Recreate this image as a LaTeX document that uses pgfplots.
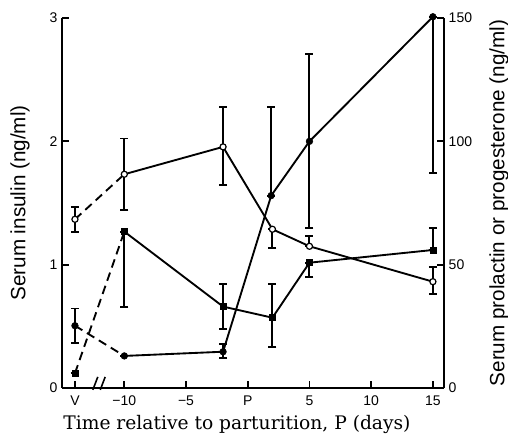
\documentclass[border=0pt]{standalone}
\usepackage{fontspec}
\setmainfont{Liberation Serif}
\newfontfamily\tickfont{Liberation Sans}
\newfontfamily\labsans{Liberation Sans}
\newfontfamily\labserif{DejaVu Serif}
\usepackage{pgfplots}
\pgfplotsset{compat=1.18}
\usepackage{pgfplotstable}

\pgfplotstableread{
x y ep em
-14 1.368 0.10 0.10
-10 1.733 0.29 0.29
-2 1.955 0.32 0.31
2 1.287 0 0.154
5 1.149 0.086 0
15 0.862 0.117 0.10
}\tOpen
\pgfplotstableread{
x y ep em
-14 0.505 0.14 0.14
-10 0.26 0 0
-2 0.294 0.063 0.048
1.9 1.56 0.717 0
5 2.0 0.705 0.70
15 3.01 0 1.264
}\tFilled
\pgfplotstableread{
x y ep em
-14 0.119 0 0
-10 1.268 0 0.608
-2 0.66 0.18 0.18
2 0.57 0.27 0.235
5 1.016 0 0.116
15 1.119 0.18 0
}\tSquare

\begin{document}
\begin{tikzpicture}
\pgfplotsset{
  every axis/.append style={
    scale only axis, width=286.5pt, height=277.5pt,
    xmin=-15.05, xmax=15.9, ymin=0, ymax=3,
    tick align=inside, major tick length=5pt,
    axis line style={line width=1.4pt}, tick style={line width=1.3pt,black},
    tick label style={font=\tickfont\fontsize{10.5}{12}\selectfont},
    ylabel style={font=\labsans\fontsize{15.5}{17}\selectfont, anchor=center},
  },
  ebar/.style={line width=1.5pt, error bars/.cd, y dir=both, y explicit,
    error bar style={line width=1.5pt},
    error mark options={rotate=90, mark size=3pt, line width=1.4pt}},
}
\begin{axis}[
  axis x line*=bottom, axis y line*=left, clip=false,
  xtick={-14,-10,-5,0,5,10,15},
  xticklabels={V,−10,−5,P,5,10,15},
  xticklabel style={yshift=-2pt},
  ytick={0,1,2,3}, yticklabels={0,1,2,3},
  xlabel={Time relative to parturition, P (days)},
  xlabel style={font=\labserif\fontsize{14}{16}\selectfont, at={(axis description cs:0.458,-0.099)}, anchor=center},
  ylabel={Serum insulin (ng/ml)},
  ylabel style={at={(axis description cs:-0.11,0.5)}},
  every axis plot/.append style={black, line width=1.4pt},
]
% open circles
\addplot[no marks, dash pattern=on 6.5pt off 4pt] table[x=x,y=y] {
x y
-14 1.368
-10 1.733
};
\addplot[no marks] table[x=x,y=y] {
x y
-10 1.733
-2 1.955
2 1.287
5 1.149
15 0.862
};
% filled circles
\addplot[no marks, dash pattern=on 6.5pt off 4pt] table[x=x,y=y] {
x y
-14 0.505
-10 0.26
};
\addplot[no marks] table[x=x,y=y] {
x y
-10 0.26
-2 0.294
1.9 1.56
5 2.0
15 3.01
};
% squares
\addplot[no marks, dash pattern=on 6.5pt off 4pt] table[x=x,y=y] {
x y
-14 0.119
-10 1.268
};
\addplot[no marks] table[x=x,y=y] {
x y
-10 1.268
-2 0.66
2 0.57
5 1.016
15 1.119
};
% marks with error bars
\addplot[only marks, mark=*, mark size=2.3pt, mark options={fill=white, line width=0.9pt}, ebar]
  table[x=x, y=y, y error plus=ep, y error minus=em] {\tOpen};
\addplot[only marks, mark=*, mark size=2.5pt, mark options={fill=black, line width=0.4pt}, ebar]
  table[x=x, y=y, y error plus=ep, y error minus=em] {\tFilled};
\addplot[only marks, mark=square*, mark size=2.3pt, mark options={fill=black, line width=0.4pt}, ebar]
  table[x=x, y=y, y error plus=ep, y error minus=em] {\tSquare};
% axis break
\draw[line width=1.2pt] (axis cs:-12.55,-0.015) -- (axis cs:-12.15,0.09);
\draw[line width=1.2pt] (axis cs:-11.95,-0.015) -- (axis cs:-11.55,0.09);
\end{axis}
\begin{axis}[
  axis x line=none, axis y line*=right,
  ymin=0, ymax=150,
  ytick={0,50,100,150}, yticklabels={0,50,100,150},
  ylabel={Serum prolactin or progesterone (ng/ml)},
  ylabel style={at={(axis description cs:1.144,0.5)}},
]
\end{axis}
\pgfresetboundingbox
\path[use as bounding box] (-46.5pt,-34.5pt) rectangle (334.5pt,291pt);
\end{tikzpicture}
\end{document}
